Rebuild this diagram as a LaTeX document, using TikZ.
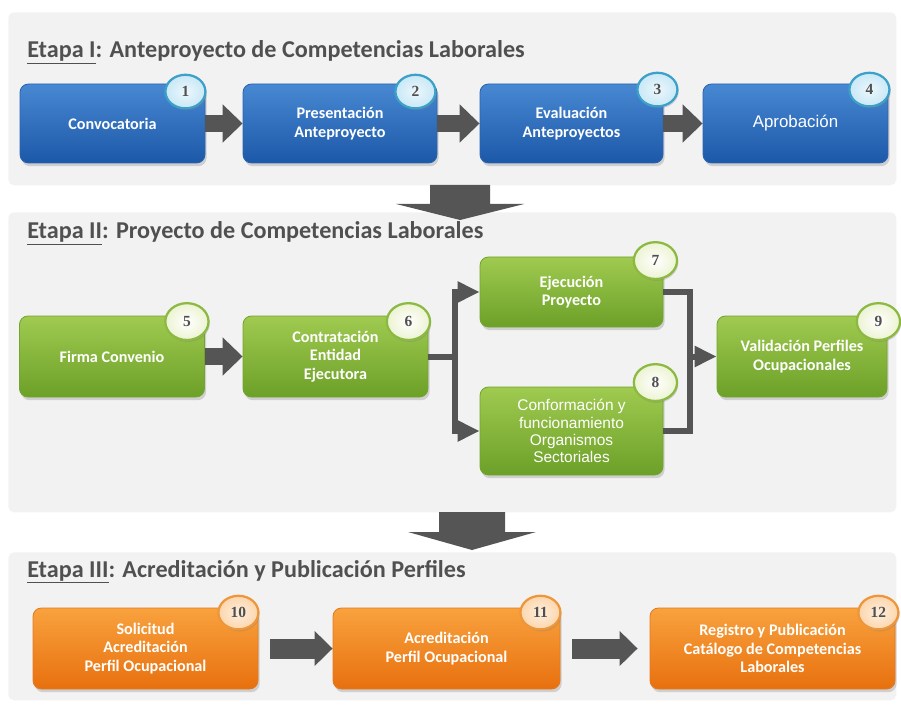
\documentclass[tikz,border=0pt]{standalone}
\usepackage{fontspec}
\setmainfont{Carlito}
\newfontfamily\arialfont{Liberation Sans}
\newfontfamily\numfont{Liberation Serif}
\usetikzlibrary{arrows.meta, positioning, calc, shadows, shapes.geometric}
\usepackage{xcolor}
\definecolor{panelgray}{RGB}{242,242,242}
\definecolor{titlegray}{RGB}{80,80,80}
\definecolor{arrowgray}{RGB}{85,85,85}
\definecolor{bluetop}{RGB}{72,136,210}
\definecolor{bluebot}{RGB}{28,88,168}
\definecolor{blueedge}{RGB}{45,100,175}
\definecolor{bluering}{RGB}{60,160,200}
\definecolor{bluedisc}{RGB}{200,232,246}
\definecolor{greentop}{RGB}{160,202,80}
\definecolor{greenbot}{RGB}{108,160,40}
\definecolor{greenedge}{RGB}{115,165,48}
\definecolor{greenring}{RGB}{140,185,65}
\definecolor{greendisc}{RGB}{236,243,210}
\definecolor{orangetop}{RGB}{248,162,62}
\definecolor{orangebot}{RGB}{232,112,14}
\definecolor{orangeedge}{RGB}{228,122,32}
\definecolor{orangering}{RGB}{238,150,60}
\definecolor{orangedisc}{RGB}{252,214,172}
\tikzset{
  panel/.style      = {fill=panelgray, rounded corners=4pt, inner sep=0pt, anchor=north west},
  stagetitle/.style = {anchor=base west, inner sep=0pt, text=titlegray,
                       font=\fontsize{17.2}{20}\selectfont\bfseries},
  stepbox/.style    = {rounded corners=6pt, align=center, text=white, inner sep=2pt, line width=0.6pt,
                       font=\fontsize{11.5}{13}\selectfont\bfseries,
                       drop shadow={opacity=0.3, shadow xshift=0.04cm, shadow yshift=-0.08cm}},
  bluestep/.style   = {stepbox, top color=bluetop, bottom color=bluebot, draw=blueedge},
  greenstep/.style  = {stepbox, top color=greentop, bottom color=greenbot, draw=greenedge},
  orangestep/.style = {stepbox, top color=orangetop, bottom color=orangebot, draw=orangeedge},
  arialtext/.style  = {font=\arialfont\fontsize{#1}{12.2}\selectfont},
  badge/.style      = {ellipse, minimum width=1.0cm, minimum height=0.84cm, inner sep=0pt,
                       line width=1.6pt, text=titlegray, font=\numfont\fontsize{11}{12}\selectfont\bfseries,
                       drop shadow={opacity=0.3, shadow xshift=0.03cm, shadow yshift=-0.05cm}},
  bluebadge/.style  = {badge, draw=bluering, inner color=bluedisc!35, outer color=bluedisc},
  greenbadge/.style = {badge, draw=greenring, inner color=white, outer color=greendisc,
                       minimum width=1.08cm, minimum height=0.92cm},
  orangebadge/.style= {badge, draw=orangering, inner color=orangedisc!40, outer color=orangedisc},
  fatflow/.style    = {draw=arrowgray, line width=0.43cm, -{Triangle[length=0.5cm, width=0.93cm]}},
  lowflow/.style    = {draw=arrowgray, line width=0.5cm, -{Triangle[length=0.45cm, width=0.85cm]}},
  forkline/.style   = {draw=arrowgray, line width=0.15cm},
  forkflow/.style   = {forkline, -{Triangle[length=0.55cm, width=0.5cm]}},
  bigdown/.style    = {fill=arrowgray}
}

\begin{document}
\begin{tikzpicture}
\useasboundingbox (0,0) rectangle (22.525,-17.85);
\node[panel, minimum width=22.2cm, minimum height=4.325cm] (stageOne)   at (0.2,-0.3)  {};
\node[panel, minimum width=22.2cm, minimum height=7.5cm]   (stageTwo)   at (0.2,-5.3)  {};
\node[panel, minimum width=22.2cm, minimum height=3.7cm]   (stageThree) at (0.2,-13.8) {};
\node[stagetitle] (titleOne)   at (0.675,-1.45)   {\underline{Etapa I}: Anteproyecto de Competencias Laborales};
\node[stagetitle] (titleTwo)   at (0.675,-5.975)  {\underline{Etapa II}: Proyecto de Competencias Laborales};
\node[stagetitle] (titleThree) at (0.675,-14.425) {\underline{Etapa III}: Acreditación y Publicación Perfiles};
\coordinate (dropOne) at (11.5,-4.625);
\coordinate (dropTwo) at (11.8,-12.8);
\foreach \c/\bw/\hy/\ty in {dropOne/0.75/0.475/0.875, dropTwo/0.825/0.5/0.95} {
  \fill[bigdown, shift={(\c)}] (-\bw,0) -- (\bw,0) -- (\bw,-\hy) -- (1.6,-\hy)
    -- (0,-\ty) -- (-1.6,-\hy) -- (-\bw,-\hy) -- cycle;
}
\node[bluestep, minimum width=4.625cm, minimum height=1.975cm] (convocatoria) at (2.8125,-3.0875) {Convocatoria};
\node[bluestep, minimum width=4.85cm,  minimum height=1.975cm] (presentacion) at (8.5,-3.0875)    {Presentación\\Anteproyecto};
\node[bluestep, minimum width=4.575cm, minimum height=1.975cm] (evaluacion)   at (14.2875,-3.0875) {Evaluación\\Anteproyectos};
\node[bluestep, minimum width=4.625cm, minimum height=1.975cm, arialtext=12] (aprobacion) at (19.8875,-3.0875) {Aprobación};
\node[greenstep, minimum width=4.625cm, minimum height=2.025cm] (firma)        at (2.8,-8.9125)    {Firma Convenio};
\node[greenstep, minimum width=4.625cm, minimum height=2.025cm] (contratacion) at (8.3875,-8.9125) {Contratación\\Entidad\\Ejecutora};
\node[greenstep, minimum width=4.575cm, minimum height=1.75cm]  (ejecucion)    at (14.2875,-7.3)   {Ejecución\\Proyecto};
\node[greenstep, minimum width=4.575cm, minimum height=2.2cm, arialtext=11] (conformacion) at (14.2875,-10.775)
  {Conformación y\\funcionamiento\\Organismos\\Sectoriales};
\node[greenstep, minimum width=4.25cm,  minimum height=2.025cm] (validacion)   at (20.05,-8.9125)  {Validación Perfiles\\Ocupacionales};
\node[orangestep, minimum width=5.625cm, minimum height=2.025cm] (solicitud)   at (3.6375,-16.2125)  {Solicitud\\Acreditación\\Perfil Ocupacional};
\node[orangestep, minimum width=5.675cm, minimum height=2.025cm] (acreditacion) at (11.1625,-16.2125) {Acreditación\\Perfil Ocupacional};
\node[orangestep, minimum width=6.125cm, minimum height=2.025cm] (registro)    at (19.3125,-16.2125) {Registro y Publicación\\Catálogo de Competencias\\Laborales};
\foreach \b/\n/\dx/\dy in {convocatoria/1/-0.5/-0.2, presentacion/2/-0.55/-0.2,
                           evaluacion/3/-0.15/-0.15, aprobacion/4/-0.475/-0.15}
  \node[bluebadge] (badge\n) at ([shift={(\dx,\dy)}]\b.north east) {\n};
\foreach \b/\n/\dx/\dy in {firma/5/-0.45/-0.15, contratacion/6/-0.5/-0.15, ejecucion/7/-0.2/-0.1,
                           conformacion/8/-0.2/0.1, validacion/9/-0.225/-0.15}
  \node[greenbadge] (badge\n) at ([shift={(\dx,\dy)}]\b.north east) {\n};
\foreach \b/\n/\dx/\dy in {solicitud/10/-0.5/-0.125, acreditacion/11/-0.5/-0.125, registro/12/-0.425/-0.125}
  \node[orangebadge] (badge\n) at ([shift={(\dx,\dy)}]\b.north east) {\n};
\draw[fatflow] (convocatoria) -- (presentacion);
\draw[fatflow] (presentacion) -- (evaluacion);
\draw[fatflow] (evaluacion) -- (aprobacion);
\draw[fatflow] (firma) -- (contratacion);
\coordinate (split) at ($(contratacion.east)+(0.675,0)$);
\coordinate (merge) at (17.25,-8.9125);
\draw[forkline] (contratacion.east) -- (split);
\draw[forkflow] (split) |- (ejecucion.west);
\draw[forkflow] (split) |- (conformacion.west);
\draw[forkline] (ejecucion.east) -| (merge);
\draw[forkline] (conformacion.east) -| (merge);
\draw[forkflow] (merge) -- (validacion.west);
\draw[lowflow, shorten <=0.3cm] (solicitud) -- (acreditacion);
\draw[lowflow, shorten <=0.3cm, shorten >=0.3cm] (acreditacion) -- (registro);
\end{tikzpicture}
\end{document}
